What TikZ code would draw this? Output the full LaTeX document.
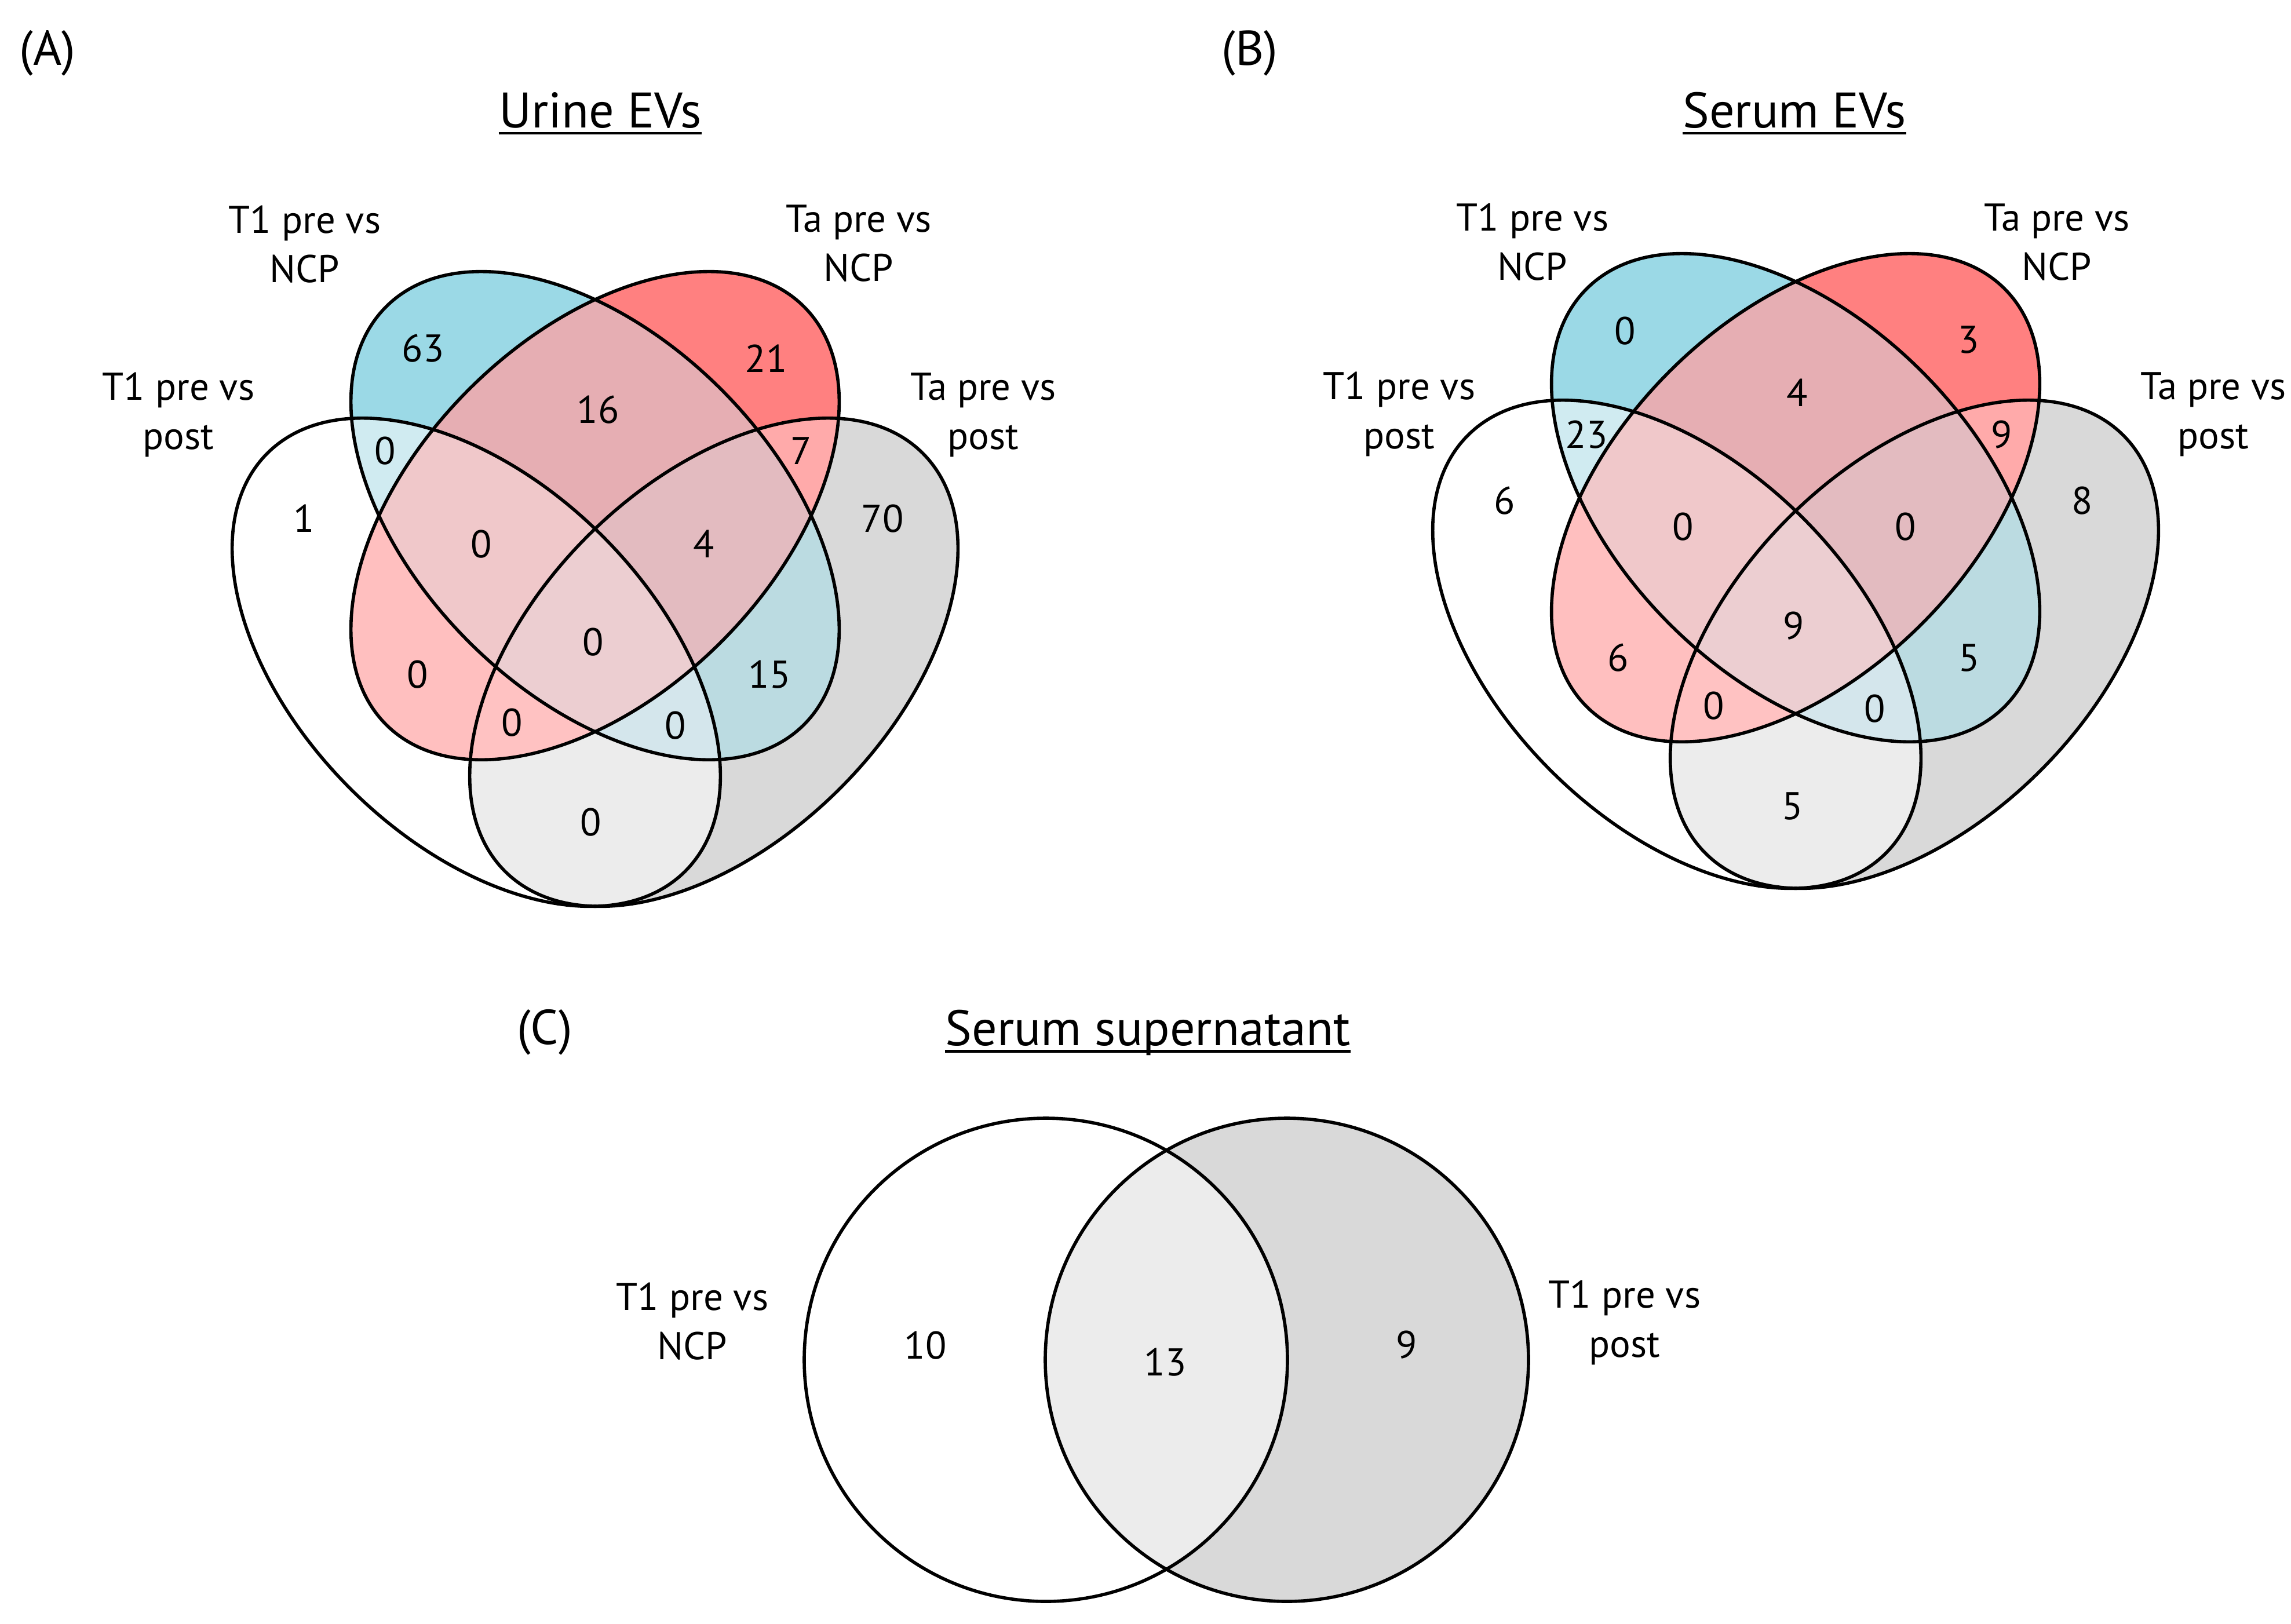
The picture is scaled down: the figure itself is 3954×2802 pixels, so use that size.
\documentclass[tikz,border=0pt]{standalone}
\usepackage{fontspec}
\setmainfont{PT Sans}
\definecolor{cB}{HTML}{9BD9E6}
\definecolor{cR}{HTML}{FF8080}
\definecolor{cG}{HTML}{D9D9D9}
\definecolor{cWB}{HTML}{D0EBF1}
\definecolor{cWR}{HTML}{FFBFBF}
\definecolor{cWG}{HTML}{ECECEC}
\definecolor{cBR}{HTML}{E6AEB3}
\definecolor{cBG}{HTML}{BBDBE1}
\definecolor{cRG}{HTML}{FFAAAA}
\definecolor{cWBR}{HTML}{F0C8CA}
\definecolor{cWBG}{HTML}{D4E6EC}
\definecolor{cWRG}{HTML}{FFC2C2}
\definecolor{cBRG}{HTML}{E3BBC0}
\definecolor{cALL}{HTML}{ECCED1}
\tikzset{
  eW/.style={shift={(822,1143)},rotate=-45},
  eB/.style={shift={(1027,890)},rotate=-45},
  eR/.style={shift={(1027,890)},rotate=45},
  eG/.style={shift={(1232,1143)},rotate=45},
  outline/.style={draw=black,line width=1.6pt},
  lab/.style={font=\fontsize{19}{24.2}\selectfont,align=center,inner sep=0pt},
  num/.style={font=\fontsize{19}{24.2}\selectfont,inner sep=0pt},
  ttl/.style={font=\fontsize{24.5}{29}\selectfont,inner sep=0pt,anchor=base},
  tag/.style={font=\fontsize{24}{28}\selectfont,inner sep=0pt,anchor=base},
  uline/.style={line width=1.3pt},
}
\newcommand\ellE{(0,0) ellipse [x radius=510, y radius=308]}
\newcommand\fourvenn{%
  \fill[eW,white] \ellE;
  \fill[eB,cB] \ellE;
  \fill[eR,cR] \ellE;
  \fill[eG,cG] \ellE;
  \begin{scope}\clip[eW] \ellE; \fill[eB,cWB] \ellE;\end{scope}
  \begin{scope}\clip[eW] \ellE; \fill[eR,cWR] \ellE;\end{scope}
  \begin{scope}\clip[eW] \ellE; \fill[eG,cWG] \ellE;\end{scope}
  \begin{scope}\clip[eB] \ellE; \fill[eR,cBR] \ellE;\end{scope}
  \begin{scope}\clip[eB] \ellE; \fill[eG,cBG] \ellE;\end{scope}
  \begin{scope}\clip[eR] \ellE; \fill[eG,cRG] \ellE;\end{scope}
  \begin{scope}\clip[eW] \ellE; \clip[eB] \ellE; \fill[eR,cWBR] \ellE;\end{scope}
  \begin{scope}\clip[eW] \ellE; \clip[eB] \ellE; \fill[eG,cWBG] \ellE;\end{scope}
  \begin{scope}\clip[eW] \ellE; \clip[eR] \ellE; \fill[eG,cWRG] \ellE;\end{scope}
  \begin{scope}\clip[eB] \ellE; \clip[eR] \ellE; \fill[eG,cBRG] \ellE;\end{scope}
  \begin{scope}\clip[eW] \ellE; \clip[eB] \ellE; \clip[eR] \ellE; \fill[eG,cALL] \ellE;\end{scope}
  \draw[eW,outline] \ellE;
  \draw[eB,outline] \ellE;
  \draw[eR,outline] \ellE;
  \draw[eG,outline] \ellE;
}
\begin{document}
\begin{tikzpicture}[x=0.01cm,y=-0.01cm]
\useasboundingbox (0,0) rectangle (3954,2802);
\fill[white] (0,0) rectangle (3954,2802);

% ---------- Panel A ----------
\fourvenn
\node[tag] (tagA) at (82,112) {(A)};
\node[ttl] (tA) at (1036,220) {Urine EVs};
\draw[uline] ([yshift=-2.9pt]tA.base west) -- ([yshift=-2.9pt]tA.base east);
\node[lab] (lA1) at (526,422) {T1 pre vs\\NCP};
\node[lab] (lA2) at (1482,420) {Ta pre vs\\NCP};
\node[lab] (lA3) at (308,716) {T1 pre vs\\post};
\node[lab] (lA4) at (1697,716) {Ta pre vs\\post};
\node[num] (nA1) at (730,601) {63};
\node[num] (nA2) at (1322,619) {21};
\node[num] (nA3) at (1032,707) {16};
\node[num] (nA4) at (665,778) {0};
\node[num] (nA5) at (1383,778) {7};
\node[num] (nA6) at (525,895) {1};
\node[num] (nA7) at (1523,895) {70};
\node[num] (nA8) at (831,939) {0};
\node[num] (nA9) at (1215,939) {4};
\node[num] (nA10) at (1024,1108) {0};
\node[num] (nA11) at (721,1164) {0};
\node[num] (nA12) at (1328,1164) {15};
\node[num] (nA13) at (884,1247) {0};
\node[num] (nA14) at (1166,1252) {0};
\node[num] (nA15) at (1020,1419) {0};

% ---------- Panel B ----------
\begin{scope}[shift={(2072,-31)}]
\fourvenn
\end{scope}
\node[tag] (tagB) at (2157,112) {(B)};
\node[ttl] (tB) at (3097,220) {Serum EVs};
\draw[uline] ([yshift=-2.9pt]tB.base west) -- ([yshift=-2.9pt]tB.base east);
\node[lab] (lB1) at (2645,418) {T1 pre vs\\NCP};
\node[lab] (lB2) at (3550,418) {Ta pre vs\\NCP};
\node[lab] (lB3) at (2415,715) {T1 pre vs\\post};
\node[lab] (lB4) at (3820,715) {Ta pre vs\\post};
\node[num] (nB1) at (2805,571) {0};
\node[num] (nB2) at (3398,587) {3};
\node[num] (nB3) at (3102,678) {4};
\node[num] (nB4) at (2738,750) {23};
\node[num] (nB5) at (3455,750) {9};
\node[num] (nB6) at (2597,864) {6};
\node[num] (nB7) at (3594,864) {8};
\node[num] (nB8) at (2905,909) {0};
\node[num] (nB9) at (3289,909) {0};
\node[num] (nB10) at (3096,1080) {9};
\node[num] (nB11) at (2793,1135) {6};
\node[num] (nB12) at (3399,1135) {5};
\node[num] (nB13) at (2958,1218) {0};
\node[num] (nB14) at (3236,1223) {0};
\node[num] (nB15) at (3094,1391) {5};

% ---------- Panel C ----------
\fill[white] (1805,2347) circle [radius=417];
\fill[cG] (2221,2347) circle [radius=417];
\begin{scope}
  \clip (1805,2347) circle [radius=417];
  \fill[cWG] (2221,2347) circle [radius=417];
\end{scope}
\draw[outline] (1805,2347) circle [radius=417];
\draw[outline] (2221,2347) circle [radius=417];
\node[tag] (tagC) at (940,1802) {(C)};
\node[ttl] (tC) at (1981,1804) {Serum supernatant};
\draw[uline] ([yshift=-2.9pt]tC.base west) -- ([yshift=-2.9pt]tC.base east);
\node[lab] (lC1) at (1195,2281) {T1 pre vs\\NCP};
\node[lab] (lC2) at (2804,2283) {T1 pre vs\\post};
\node[num] (nC1) at (1597,2322) {10};
\node[num] (nC2) at (2011,2351) {13};
\node[num] (nC3) at (2428,2321) {9};
\end{tikzpicture}
\end{document}
